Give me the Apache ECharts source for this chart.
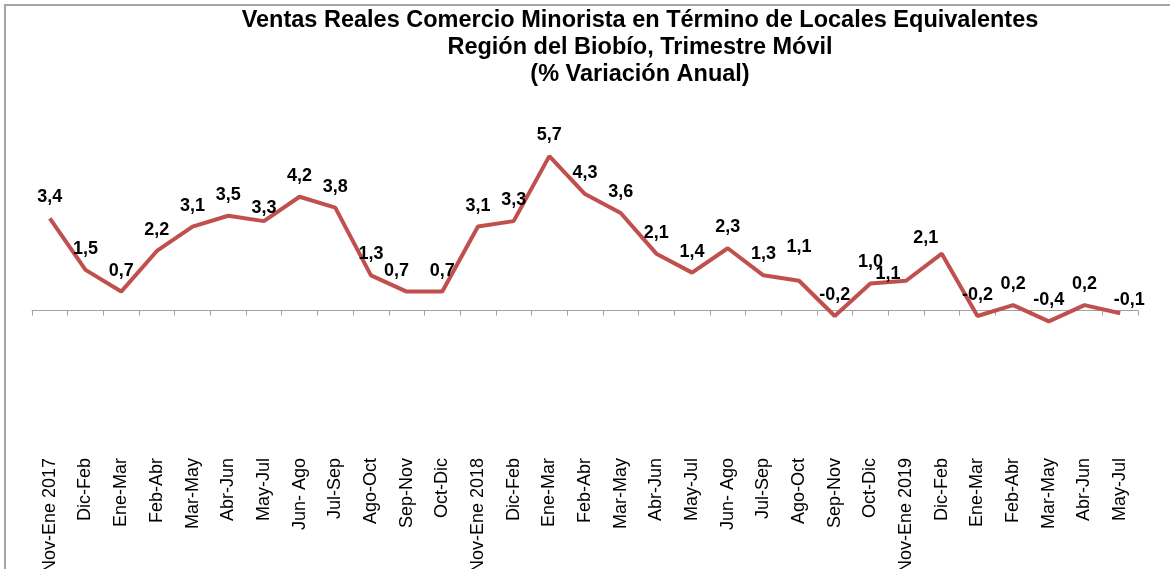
<!DOCTYPE html>
<html>
<head>
<meta charset="utf-8">
<script src="https://cdn.jsdelivr.net/npm/echarts@6/dist/echarts.min.js"></script>
<style>
	html, body { margin: 0; padding: 0; background: #fff; }
	#chart { width: 1170px; height: 569px; }
</style>
</head>
<body>
<div id="chart"></div>
<script>
var categories = [
	'Nov-Ene 2017', 'Dic-Feb', 'Ene-Mar', 'Feb-Abr', 'Mar-May', 'Abr-Jun', 'May-Jul', 'Jun- Ago',
	'Jul-Sep', 'Ago-Oct', 'Sep-Nov', 'Oct-Dic',
	'Nov-Ene 2018', 'Dic-Feb', 'Ene-Mar', 'Feb-Abr', 'Mar-May', 'Abr-Jun', 'May-Jul', 'Jun- Ago',
	'Jul-Sep', 'Ago-Oct', 'Sep-Nov', 'Oct-Dic',
	'Nov-Ene 2019', 'Dic-Feb', 'Ene-Mar', 'Feb-Abr', 'Mar-May', 'Abr-Jun', 'May-Jul'
];
var ventas = [
	3.4, 1.5, 0.7, 2.2, 3.1, 3.5, 3.3, 4.2, 3.8, 1.3, 0.7, 0.7,
	3.1, 3.3, 5.7, 4.3, 3.6, 2.1, 1.4, 2.3, 1.3, 1.1, -0.2, 1.0,
	1.1, 2.1, -0.2, 0.2, -0.4, 0.2, -0.1
];
var titleLines = [
	'Ventas Reales Comercio Minorista en Término de Locales Equivalentes',
	'Región del Biobío, Trimestre Móvil',
	'(% Variación Anual)'
];

// etiquetas movidas a mano en el original (indice -> [dx, dy])
var labelNudge = {
	6: [0, 8],
	10: [-10, 0],
	21: [0, -13],
	24: [-18, 14],
	25: [-16, 5],
	30: [9, 8]
};

var chart = echarts.init(document.getElementById('chart'));

var seriesData = ventas.map(function(v, i) {
	var item = { value: v };
	if (labelNudge[i]) {
		item.label = { offset: labelNudge[i] };
	}
	return item;
});

var font = '"Liberation Sans", Arial, sans-serif';

chart.setOption({
	animation: false,
	backgroundColor: '#fff',
	title: {
		text: titleLines.join('\n'),
		left: 635,
		top: 2,
		textAlign: 'center',
		textStyle: {
			fontFamily: font,
			fontSize: 23.5,
			fontWeight: 'bold',
			color: '#000',
			lineHeight: 27
		}
	},
	graphic: [{
		type: 'rect',
		shape: { x: 5, y: 5, width: 1300, height: 700 },
		style: { fill: null, stroke: '#a6a6a6', lineWidth: 2 },
		silent: true
	}],
	grid: {
		left: 32,
		right: 32,
		top: 148,
		bottom: 123,
		outerBoundsMode: 'none'
	},
	xAxis: [{
		type: 'category',
		data: categories,
		boundaryGap: true,
		axisLine: { onZero: true, lineStyle: { color: '#a0a0a0', width: 1 } },
		axisTick: { show: true, interval: 0, length: 5, lineStyle: { color: '#a0a0a0' } },
		axisLabel: { show: false }
	}, {
		type: 'category',
		data: categories,
		position: 'bottom',
		boundaryGap: true,
		axisLine: { show: false, onZero: false },
		axisTick: { show: false },
		axisLabel: {
			interval: 0,
			rotate: 90,
			margin: 12,
			fontFamily: font,
			fontSize: 18,
			color: '#000'
		}
	}],
	yAxis: {
		type: 'value',
		min: -5,
		max: 6,
		show: false,
		splitLine: { show: false }
	},
	series: [{
		type: 'line',
		xAxisIndex: 0,
		data: seriesData,
		symbol: 'circle',
		symbolSize: 0,
		showSymbol: true,
		lineStyle: { color: '#c0504d', width: 4 },
		itemStyle: { color: '#c0504d' },
		label: {
			show: true,
			position: 'top',
			distance: 12,
			fontFamily: font,
			fontSize: 18,
			fontWeight: 'bold',
			color: '#000',
			formatter: function(p) {
				return p.value.toFixed(1).replace('.', ',');
			}
		}
	}]
});
</script>
</body>
</html>
